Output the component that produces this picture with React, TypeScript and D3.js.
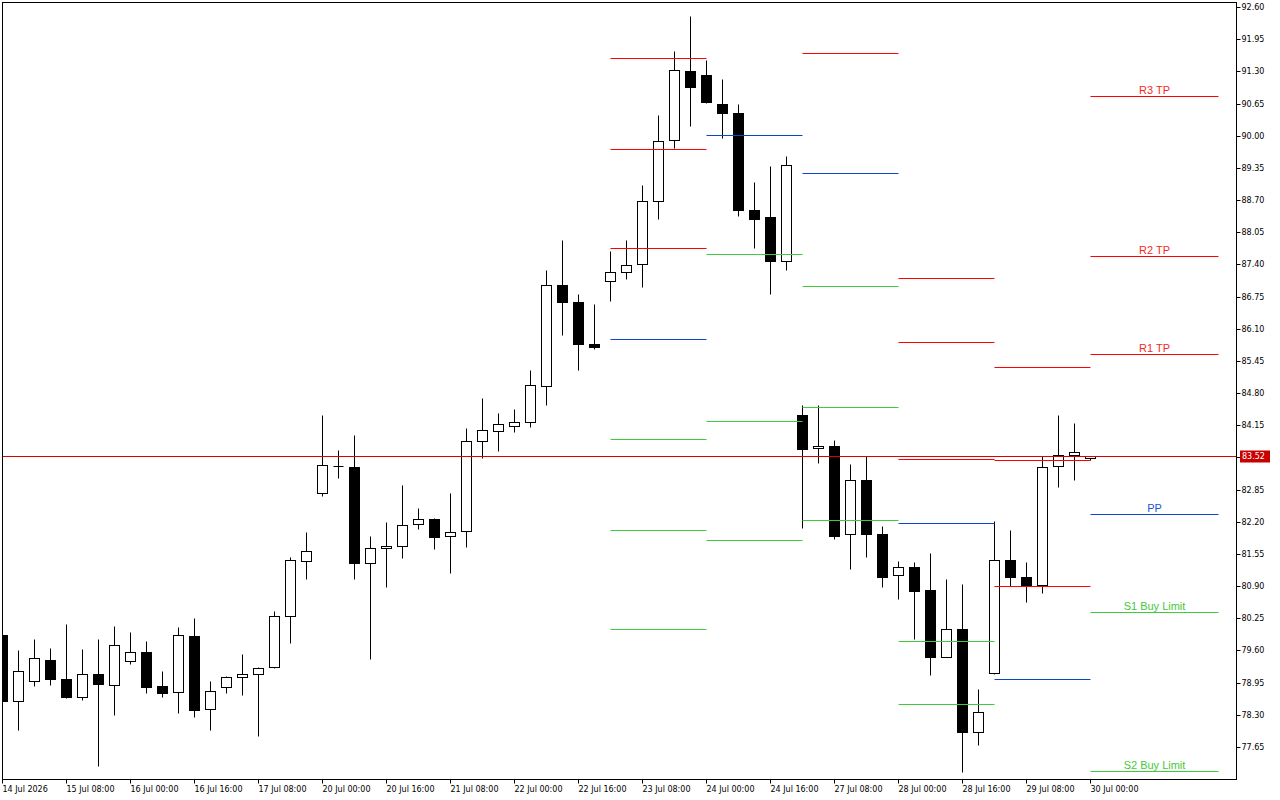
import * as d3 from 'd3';

// H4 candles, 14 Jul 2026 .. 30 Jul 2026
const opens = [
  79.92, 78.57, 78.98, 79.41, 79.02, 78.67, 79.12, 78.91, 79.38, 79.57,
  78.88, 78.76, 79.90, 78.42, 78.86, 79.06, 79.12, 79.27, 80.30, 81.41,
  82.78, 83.32, 83.30, 81.37, 81.67, 81.71, 82.15, 82.25, 81.91, 82.01,
  83.83, 84.03, 84.13, 84.21, 84.94, 86.98, 86.64, 85.79, 87.06, 87.24,
  87.40, 88.68, 89.91, 91.30, 91.22, 90.64, 90.45, 88.49, 88.35, 87.46,
  84.36, 83.69, 83.73, 81.95, 83.04, 81.95, 81.12, 81.29, 80.82, 79.47,
  80.03, 77.95, 79.14, 81.43, 81.08, 80.92, 83.32, 83.55, 83.49,
];
const highs = [
  79.98, 79.60, 79.84, 79.66, 80.14, 79.62, 79.84, 80.10, 79.98, 79.80,
  79.19, 80.08, 80.26, 78.99, 79.08, 79.53, 79.27, 80.40, 81.49, 82.00,
  84.36, 83.65, 83.96, 81.92, 82.20, 82.95, 82.48, 82.27, 82.79, 84.10,
  84.70, 84.40, 84.48, 85.27, 87.29, 87.89, 86.80, 86.60, 87.67, 87.89,
  89.01, 90.42, 91.71, 92.42, 91.53, 91.15, 90.64, 89.06, 89.39, 89.58,
  84.56, 84.56, 83.86, 83.37, 83.53, 82.12, 81.41, 81.39, 81.57, 81.05,
  80.95, 78.83, 82.22, 82.04, 81.39, 83.53, 84.36, 84.20, 83.53,
];
const lows = [
  78.52, 77.99, 78.89, 78.91, 78.63, 78.59, 77.26, 78.30, 79.32, 78.75,
  78.67, 78.33, 78.25, 77.99, 78.75, 78.71, 77.88, 79.25, 79.76, 81.05,
  82.73, 83.09, 81.05, 79.42, 80.89, 81.46, 82.06, 81.66, 81.16, 81.70,
  83.48, 83.64, 84.02, 84.12, 84.55, 85.98, 85.26, 85.70, 86.66, 87.10,
  86.94, 88.31, 89.75, 90.20, 90.66, 89.96, 88.37, 87.73, 86.80, 87.28,
  82.08, 83.38, 81.86, 81.24, 81.48, 80.89, 80.63, 79.84, 79.10, 79.46,
  77.14, 77.69, 79.13, 80.90, 80.57, 80.77, 82.91, 83.05, 83.45,
];
const closes = [
  78.57, 79.18, 79.45, 79.02, 78.67, 79.12, 78.93, 79.71, 79.57, 78.87,
  78.75, 79.91, 78.39, 78.78, 79.06, 79.12, 79.25, 80.30, 81.43, 81.61,
  83.34, 83.33, 81.37, 81.67, 81.71, 82.13, 82.25, 81.89, 81.99, 83.83,
  84.05, 84.17, 84.21, 84.96, 86.98, 86.64, 85.79, 85.73, 87.24, 87.38,
  88.68, 89.89, 91.32, 90.98, 90.68, 90.45, 88.49, 88.31, 87.46, 89.40,
  83.68, 83.73, 81.92, 83.04, 81.95, 81.08, 81.29, 80.81, 79.46, 80.03,
  77.95, 78.36, 81.43, 81.08, 80.91, 83.30, 83.55, 83.61, 83.52,
];

const timeLabels = [
  '14 Jul 2026', '15 Jul 08:00', '16 Jul 00:00', '16 Jul 16:00', '17 Jul 08:00',
  '20 Jul 00:00', '20 Jul 16:00', '21 Jul 08:00', '22 Jul 00:00', '22 Jul 16:00',
  '23 Jul 08:00', '24 Jul 00:00', '24 Jul 16:00', '27 Jul 08:00', '28 Jul 00:00',
  '28 Jul 16:00', '29 Jul 08:00', '30 Jul 00:00',
];
const priceTicks = [
  77.65, 78.30, 78.95, 79.60, 80.25, 80.90, 81.55, 82.20, 82.85, 83.50, 84.15, 84.80,
  85.45, 86.10, 86.75, 87.40, 88.05, 88.70, 89.35, 90.00, 90.65, 91.30, 91.95, 92.60,
];
const currentPrice = 83.52;

// daily pivots: first bar of each day, and the level values (null = off chart)
const pivotDayStart = [38, 44, 50, 56, 62, 68];
const pivotLastEnd = 76;
const r3 = [91.56, null, null, 87.13, 85.32, 90.80];
const r2 = [89.73, null, null, 85.84, 83.45, 87.57];
const r1 = [87.73, null, 91.68, 83.47, 80.90, 85.59];
const pp = [85.89, 90.01, 89.24, 82.17, 79.02, 82.36];
const s1 = [83.87, 87.61, 86.97, 79.79, null, 80.38];
const s2 = [82.04, 84.23, 84.52, 78.52, null, 77.17];
const s3 = [80.03, 81.84, 82.23, null, null, null];
const levelNames = ['R3 TP', 'R2 TP', 'R1 TP', 'PP', 'S1 Buy Limit', 'S2 Buy Limit', 'S3'];

const RED = '#ff0000';
const BLUE = '#0c47c9';
const GREEN = '#3ccc3c';

const plotLeft = 2.5;
const plotTop = 2.5;
const plotRight = 1236.5;
const plotBottom = 779.5;
const axisFont = '"DejaVu Sans", sans-serif';

const crisp = (v: number) => Math.floor(v) + 0.5;

export default function App() {
  const x = d3.scaleLinear().domain([0, 68]).range([2.5, 1090.5]);
  const y = d3.scaleLinear().domain([77.65, 92.6]).range([747.5, 7.5]);

  const bars = d3.range(opens.length).map((i) => ({
    i,
    o: opens[i],
    h: highs[i],
    l: lows[i],
    c: closes[i],
  }));

  const levelSets = [
    { vals: r3, color: RED },
    { vals: r2, color: RED },
    { vals: r1, color: RED },
    { vals: pp, color: BLUE },
    { vals: s1, color: GREEN },
    { vals: s2, color: GREEN },
    { vals: s3, color: GREEN },
  ];
  const lastDay = pivotDayStart.length - 1;
  const labelColor = ['#f52a1e', '#f52a1e', '#f52a1e', '#1a55d0', '#45c83a', '#45c83a', '#45c83a'];

  const cpY = crisp(y(currentPrice));

  return (
    <svg
      width={1280}
      height={800}
      style={{ position: 'absolute', left: 0, top: 0, background: '#fff' }}
    >
      <defs>
        <clipPath id="plot">
          <rect x={plotLeft} y={plotTop} width={plotRight - plotLeft} height={plotBottom - plotTop} />
        </clipPath>
      </defs>
      <rect width={1280} height={800} fill="#fff" />

      <g clipPath="url(#plot)">
        {bars.map((b) => {
          const cx = x(b.i);
          const top = crisp(y(Math.max(b.o, b.c)));
          const bot = crisp(y(Math.min(b.o, b.c)));
          const bull = b.c >= b.o;
          return (
            <g key={b.i}>
              <line
                x1={cx}
                x2={cx}
                y1={crisp(y(b.h))}
                y2={crisp(y(b.l))}
                stroke="#000"
                strokeWidth={1}
              />
              {bot - top < 1 ? (
                <line x1={cx - 5} x2={cx + 5} y1={top} y2={top} stroke="#000" strokeWidth={1} />
              ) : (
                <rect
                  x={cx - 5}
                  y={top}
                  width={10}
                  height={bot - top}
                  fill={bull ? '#fff' : '#000'}
                  stroke="#000"
                  strokeWidth={1}
                />
              )}
            </g>
          );
        })}

        {levelSets.map((ls, li) =>
          ls.vals.map((v, d) => {
            if (v === null) return null;
            const x1 = x(pivotDayStart[d]);
            const x2 = x(d === lastDay ? pivotLastEnd : pivotDayStart[d + 1]);
            const ly = crisp(y(v));
            return (
              <line
                key={`${li}-${d}`}
                x1={x1}
                x2={x2}
                y1={ly}
                y2={ly}
                stroke={ls.color}
                strokeWidth={1}
              />
            );
          })
        )}

        {levelSets.map((ls, li) => {
          const v = ls.vals[lastDay];
          if (v === null) return null;
          const mid = (x(pivotDayStart[lastDay]) + x(pivotLastEnd)) / 2;
          return (
            <text
              key={`lbl-${li}`}
              x={mid}
              y={crisp(y(v)) - 3}
              textAnchor="middle"
              fontFamily='"Liberation Sans", Arial, sans-serif'
              fontSize={11}
              fill={labelColor[li]}
            >
              {levelNames[li]}
            </text>
          );
        })}

        <line x1={plotLeft} x2={plotRight} y1={cpY} y2={cpY} stroke="#dd0000" strokeWidth={1} />
      </g>

      {/* frame */}
      <rect
        x={plotLeft}
        y={plotTop}
        width={plotRight - plotLeft}
        height={plotBottom - plotTop}
        fill="none"
        stroke="#000"
        strokeWidth={1}
      />

      {/* price axis */}
      {priceTicks.map((t) => {
        const ty = crisp(y(t));
        return (
          <g key={t}>
            <line x1={plotRight} x2={plotRight + 4} y1={ty} y2={ty} stroke="#000" />
            <text
              x={plotRight + 5}
              y={ty}
              dy="0.36em"
              fontFamily={axisFont}
              fontSize={8}
              fill="#000"
            >
              {t.toFixed(2)}
            </text>
          </g>
        );
      })}
      <rect x={1240} y={cpY - 6} width={30} height={12} fill="#c80000" />
      <text
        x={1242}
        y={cpY}
        dy="0.36em"
        fontFamily={axisFont}
        fontSize={8}
        fill="#fff"
      >
        {currentPrice.toFixed(2)}
      </text>

      {/* time axis */}
      {timeLabels.map((lbl, k) => {
        const tx = x(k * 4);
        return (
          <g key={lbl}>
            <line x1={tx} x2={tx} y1={plotBottom} y2={plotBottom + 4} stroke="#000" />
            <text x={tx} y={792} fontFamily={axisFont} fontSize={8} fill="#000">
              {lbl}
            </text>
          </g>
        );
      })}
    </svg>
  );
}
